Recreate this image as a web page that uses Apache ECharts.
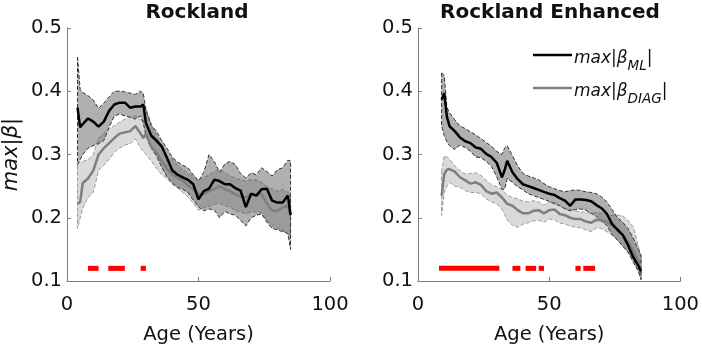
<!DOCTYPE html>
<html>
<head>
<meta charset="utf-8">
<script src="https://cdn.jsdelivr.net/npm/echarts@6/dist/echarts.min.js"></script>
<style>
  html, body { margin: 0; padding: 0; background: #fff; }
  #chart { width: 702px; height: 350px; }
</style>
</head>
<body>
<div id="chart"></div>
<script>
// ---- Rockland (left) ----
const agesL = [4,5,6,8,10,12,14,16,18,20,22,24,26,28,29,30,32,34,36,38,40,42,44,46,48,50,52,54,56,58,60,62,64,66,68,70,72,74,76,78,80,82,84,85];
const mlMeanL = [0.374,0.343,0.348,0.357,0.352,0.344,0.352,0.369,0.379,0.382,0.382,0.374,0.376,0.376,0.379,0.350,0.330,0.322,0.313,0.295,0.275,0.268,0.264,0.260,0.253,0.229,0.242,0.246,0.260,0.258,0.253,0.253,0.247,0.243,0.217,0.238,0.235,0.245,0.246,0.227,0.224,0.224,0.235,0.204];
const mlHiL = [0.454,0.403,0.398,0.393,0.386,0.373,0.381,0.391,0.400,0.400,0.399,0.397,0.395,0.400,0.397,0.370,0.346,0.337,0.322,0.310,0.296,0.288,0.283,0.279,0.268,0.258,0.272,0.300,0.289,0.272,0.285,0.289,0.284,0.270,0.263,0.271,0.268,0.279,0.273,0.266,0.276,0.279,0.291,0.290];
const mlLoL = [0.284,0.292,0.300,0.310,0.314,0.317,0.322,0.343,0.361,0.364,0.361,0.359,0.356,0.361,0.350,0.330,0.310,0.298,0.280,0.265,0.255,0.248,0.245,0.240,0.228,0.217,0.211,0.214,0.212,0.200,0.210,0.206,0.204,0.196,0.187,0.200,0.204,0.206,0.193,0.183,0.181,0.178,0.175,0.150];
const diagMeanL = [0.222,0.225,0.255,0.262,0.275,0.300,0.310,0.318,0.326,0.333,0.335,0.337,0.345,0.333,0.326,0.333,0.312,0.303,0.290,0.278,0.268,0.263,0.259,0.251,0.245,0.237,0.237,0.242,0.245,0.250,0.245,0.242,0.237,0.234,0.232,0.237,0.236,0.238,0.222,0.211,0.211,0.216,0.219,0.206];
const diagHiL = [0.285,0.289,0.289,0.292,0.300,0.326,0.333,0.340,0.346,0.351,0.356,0.359,0.361,0.355,0.350,0.374,0.350,0.330,0.312,0.290,0.294,0.283,0.276,0.270,0.266,0.260,0.263,0.268,0.273,0.276,0.271,0.266,0.263,0.260,0.258,0.260,0.260,0.256,0.250,0.245,0.242,0.245,0.240,0.237];
const diagLoL = [0.183,0.200,0.215,0.232,0.240,0.275,0.283,0.292,0.304,0.310,0.315,0.317,0.325,0.310,0.305,0.300,0.290,0.278,0.268,0.262,0.253,0.247,0.240,0.233,0.223,0.212,0.216,0.218,0.221,0.223,0.219,0.217,0.211,0.209,0.206,0.209,0.209,0.208,0.196,0.188,0.184,0.180,0.175,0.171];
const sigStartL = [8, 15.7, 28];
const sigEndL = [12, 22, 30];

// ---- Rockland Enhanced (right) ----
const agesR = [9,10,11,12,14,16,18,20,22,24,26,28,30,32,33,34,36,38,40,42,44,46,48,50,52,54,56,58,60,62,64,66,68,70,72,74,76,78,80,82,84,85];
const mlMeanR = [0.387,0.397,0.360,0.345,0.337,0.327,0.321,0.318,0.311,0.309,0.301,0.296,0.287,0.264,0.275,0.290,0.272,0.261,0.253,0.250,0.247,0.244,0.241,0.238,0.236,0.231,0.227,0.219,0.229,0.229,0.228,0.226,0.220,0.215,0.206,0.190,0.181,0.173,0.157,0.138,0.124,0.115];
const mlHiR = [0.429,0.425,0.375,0.366,0.355,0.345,0.341,0.336,0.331,0.325,0.319,0.313,0.305,0.300,0.310,0.314,0.298,0.282,0.270,0.266,0.263,0.260,0.254,0.249,0.246,0.243,0.241,0.243,0.244,0.243,0.241,0.240,0.238,0.233,0.225,0.213,0.200,0.193,0.183,0.168,0.150,0.141];
const mlLoR = [0.345,0.330,0.320,0.314,0.308,0.315,0.311,0.305,0.296,0.295,0.289,0.281,0.265,0.245,0.245,0.262,0.256,0.249,0.244,0.238,0.235,0.232,0.229,0.226,0.222,0.219,0.214,0.211,0.213,0.214,0.212,0.207,0.202,0.194,0.188,0.173,0.165,0.155,0.146,0.130,0.115,0.102];
const diagMeanR = [0.235,0.269,0.276,0.277,0.273,0.264,0.259,0.254,0.256,0.252,0.242,0.238,0.240,0.232,0.227,0.222,0.219,0.212,0.207,0.207,0.211,0.212,0.207,0.212,0.213,0.206,0.204,0.200,0.198,0.198,0.194,0.192,0.197,0.196,0.193,0.188,0.183,0.173,0.162,0.148,0.132,0.117];
const diagHiR = [0.272,0.298,0.296,0.293,0.282,0.274,0.269,0.270,0.271,0.267,0.259,0.252,0.249,0.245,0.240,0.236,0.232,0.230,0.226,0.225,0.227,0.225,0.220,0.225,0.225,0.219,0.215,0.213,0.211,0.209,0.209,0.207,0.208,0.207,0.205,0.204,0.204,0.203,0.196,0.186,0.155,0.136];
const diagLoR = [0.204,0.240,0.250,0.256,0.250,0.248,0.243,0.240,0.240,0.238,0.230,0.225,0.222,0.214,0.205,0.196,0.188,0.185,0.190,0.192,0.195,0.196,0.193,0.198,0.197,0.192,0.190,0.187,0.185,0.184,0.181,0.178,0.184,0.183,0.178,0.173,0.165,0.156,0.146,0.133,0.117,0.104];
const sigStartR = [8, 36, 41, 46, 60, 63];
const sigEndR = [31, 39, 45, 48, 62, 67.5];

const sigLevel = 0.12;
const xTicks = [0, 50, 100];
const titles = ['Rockland', 'Rockland Enhanced'];

const FONT = 'DejaVu Sans, sans-serif';
const TXT = '#111';
const chart = echarts.init(document.getElementById('chart'));

function band(xi, ages, hi, lo, fill, stroke) {
  return {
    type: 'custom', xAxisIndex: xi, yAxisIndex: xi, silent: true,
    data: [[ages[0], lo[0]]],
    renderItem: (params, api) => {
      const pts = [];
      ages.forEach((a, i) => pts.push(api.coord([a, hi[i]])));
      for (let i = ages.length - 1; i >= 0; i--) pts.push(api.coord([ages[i], lo[i]]));
      return {
        type: 'polygon', shape: { points: pts },
        style: { fill: fill, stroke: stroke, lineWidth: 1, lineDash: [4, 2] }
      };
    }
  };
}

function line(xi, ages, vals, color) {
  return {
    type: 'line', xAxisIndex: xi, yAxisIndex: xi, silent: true,
    data: ages.map((a, i) => [a, vals[i]]),
    symbol: 'none', lineStyle: { color: color, width: 2.5 }
  };
}

function sig(xi, starts, ends) {
  return {
    type: 'custom', xAxisIndex: xi, yAxisIndex: xi, silent: true,
    data: starts.map((s, i) => [s, ends[i], sigLevel]),
    encode: { x: [0, 1], y: 2 },
    renderItem: (params, api) => {
      const a = api.coord([api.value(0), api.value(2)]);
      const b = api.coord([api.value(1), api.value(2)]);
      return {
        type: 'rect',
        shape: { x: a[0], y: a[1] - 2.5, width: b[0] - a[0], height: 5 },
        style: { fill: '#ff0000' }
      };
    }
  };
}

const axisCol = '#7f7f7f';
function xAxis(gi) {
  return {
    type: 'value', gridIndex: gi, min: 0, max: 100, interval: 50,
    axisLine: { onZero: false, lineStyle: { color: axisCol, width: 1 } },
    axisTick: { inside: true, length: 4, lineStyle: { color: axisCol } },
    splitLine: { show: false },
    axisLabel: { color: TXT, fontSize: 19.5, fontFamily: FONT, margin: 14,
      formatter: v => xTicks.includes(v) ? String(v) : '' },
    name: 'Age (Years)', nameLocation: 'middle', nameGap: 44,
    nameTextStyle: { color: TXT, fontSize: 19.5, fontFamily: FONT }
  };
}
function yAxis(gi, withName) {
  const ax = {
    type: 'value', gridIndex: gi, min: 0.1, max: 0.5, interval: 0.1,
    axisLine: { show: true, onZero: false, lineStyle: { color: axisCol, width: 1 } },
    axisTick: { show: true, inside: true, length: 4, lineStyle: { color: axisCol } },
    splitLine: { show: false },
    axisLabel: { color: TXT, fontSize: 19.5, fontFamily: FONT, margin: 5,
      formatter: v => v.toFixed(1) }
  };
  if (withName) {
    ax.name = '{i|max}|{i|β}|';
    ax.nameLocation = 'middle';
    ax.nameGap = 45;
    ax.nameTextStyle = { color: TXT, fontSize: 21, fontFamily: FONT,
      rich: { i: { fontStyle: 'italic', fontSize: 21, fontFamily: FONT, color: TXT } } };
  }
  return ax;
}

const legendRich = {
  i: { fontStyle: 'italic', fontSize: 17, fontFamily: FONT, fill: TXT },
  n: { fontSize: 17, fontFamily: FONT, fill: TXT },
  s: { fontStyle: 'italic', fontSize: 13.5, fontFamily: FONT, fill: TXT, padding: [15, 0, 0, 0] }
};

chart.setOption({
  animation: false,
  title: titles.map((t, i) => ({
    text: t, left: i === 0 ? 197 : 550, top: 3, padding: 0, textAlign: 'center',
    textStyle: { fontSize: 20, fontWeight: 'bold', fontFamily: FONT, color: TXT }
  })),
  grid: [
    { left: 65, right: 372, top: 28, bottom: 66 },
    { left: 418, right: 19, top: 28, bottom: 66 }
  ],
  xAxis: [xAxis(0), xAxis(1)],
  yAxis: [yAxis(0, true), yAxis(1, false)],
  series: [
    band(0, agesL, diagHiL, diagLoL, 'rgba(150,150,150,0.35)', '#9a9a9a'),
    band(0, agesL, mlHiL, mlLoL, 'rgba(80,80,80,0.45)', '#333'),
    line(0, agesL, diagMeanL, '#7f7f7f'),
    line(0, agesL, mlMeanL, '#000'),
    sig(0, sigStartL, sigEndL),
    band(1, agesR, diagHiR, diagLoR, 'rgba(150,150,150,0.35)', '#9a9a9a'),
    band(1, agesR, mlHiR, mlLoR, 'rgba(80,80,80,0.45)', '#333'),
    line(1, agesR, diagMeanR, '#7f7f7f'),
    line(1, agesR, mlMeanR, '#000'),
    sig(1, sigStartR, sigEndR)
  ],
  graphic: [
    { type: 'line', shape: { x1: 533, y1: 55, x2: 572, y2: 55 }, style: { stroke: '#000', lineWidth: 2.5 } },
    { type: 'text', x: 574, y: 59, style: { text: '{i|max}{n||}{i|β}{s|ML}{n||}', verticalAlign: 'middle', rich: legendRich } },
    { type: 'line', shape: { x1: 533, y1: 88, x2: 572, y2: 88 }, style: { stroke: '#7f7f7f', lineWidth: 2.5 } },
    { type: 'text', x: 574, y: 92, style: { text: '{i|max}{n||}{i|β}{s|DIAG}{n||}', verticalAlign: 'middle', rich: legendRich } }
  ]
});
</script>
</body>
</html>
